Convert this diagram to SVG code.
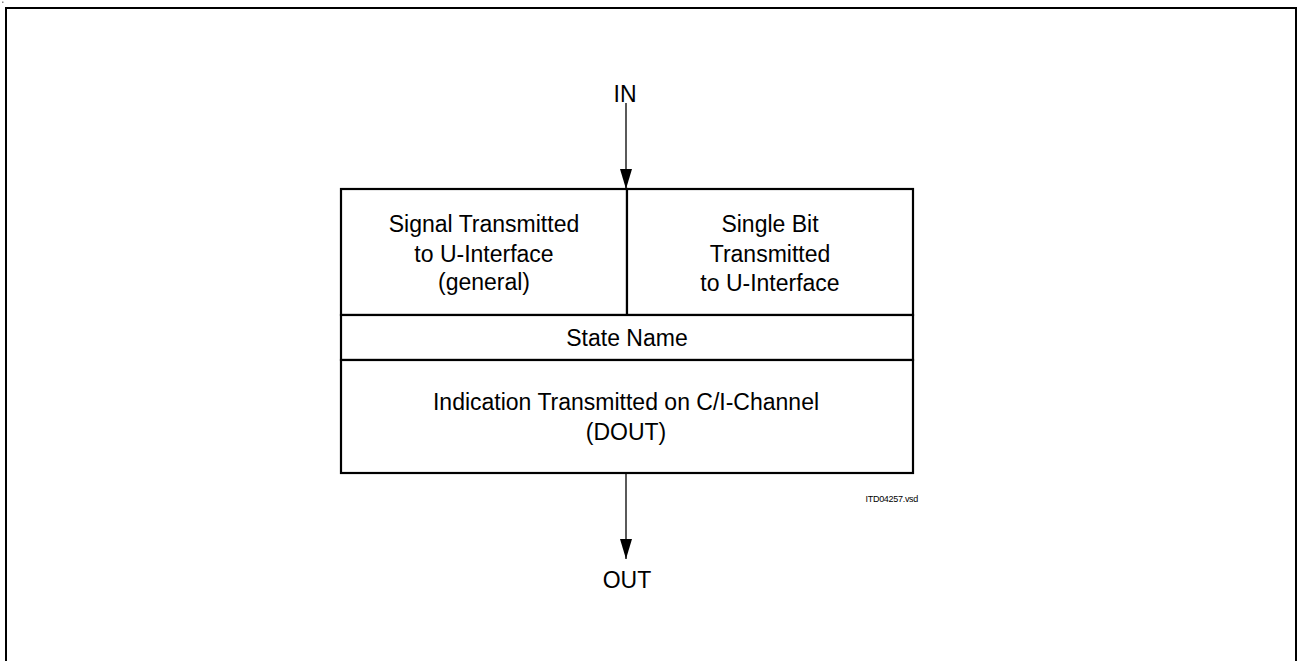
<svg xmlns="http://www.w3.org/2000/svg" width="1297" height="661" viewBox="0 0 1297 661">
  <style>
    .t { font-family: "Liberation Sans", Arial, sans-serif; font-size: 23px; fill: #000; text-anchor: middle; }
    .box { fill: #fff; stroke: #000; stroke-width: 2.2; }
    .wire { stroke: #000; stroke-width: 1.3; fill: none; }
  </style>
  <defs>
    <marker id="arr" viewBox="0 0 20 12" refX="20" refY="6" markerWidth="20" markerHeight="12" markerUnits="userSpaceOnUse" orient="auto">
      <path d="M0,0 L20,6 L0,12 Z" fill="#000"/>
    </marker>
  </defs>
  <rect width="1297" height="661" fill="#fff"/>
  <rect x="2" y="1.5" width="1.5" height="1.5" fill="#888"/>
  <rect x="6" y="8" width="1290" height="700" fill="none" stroke="#000" stroke-width="2"/>

  <g id="connectors">
    <line class="wire" x1="626" y1="103" x2="626" y2="189" marker-end="url(#arr)"/>
    <line class="wire" x1="626" y1="473" x2="626" y2="559" marker-end="url(#arr)"/>
  </g>

  <g id="in-label">
    <text class="t" x="625" y="102">IN</text>
  </g>

  <g id="signal-general">
    <rect class="box" x="341" y="189" width="286" height="126"/>
    <text class="t" x="484" y="232">Signal Transmitted</text>
    <text class="t" x="484" y="262">to U-Interface</text>
    <text class="t" x="484" y="290">(general)</text>
  </g>

  <g id="single-bit">
    <rect class="box" x="627" y="189" width="286" height="126"/>
    <text class="t" x="770" y="232">Single Bit</text>
    <text class="t" x="770" y="262">Transmitted</text>
    <text class="t" x="770" y="291">to U-Interface</text>
  </g>

  <g id="state-name">
    <rect class="box" x="341" y="315" width="572" height="45"/>
    <text class="t" x="627" y="346">State Name</text>
  </g>

  <g id="indication">
    <rect class="box" x="341" y="360" width="572" height="113"/>
    <text class="t" x="626" y="410">Indication Transmitted on C/I-Channel</text>
    <text class="t" x="626" y="440">(DOUT)</text>
  </g>

  <g id="out-label">
    <text class="t" x="627" y="588">OUT</text>
  </g>

  <g id="file-label">
    <text x="918" y="502" font-family="Liberation Sans, Arial, sans-serif" font-size="9" text-anchor="end" letter-spacing="-0.3">ITD04257.vsd</text>
  </g>
</svg>
